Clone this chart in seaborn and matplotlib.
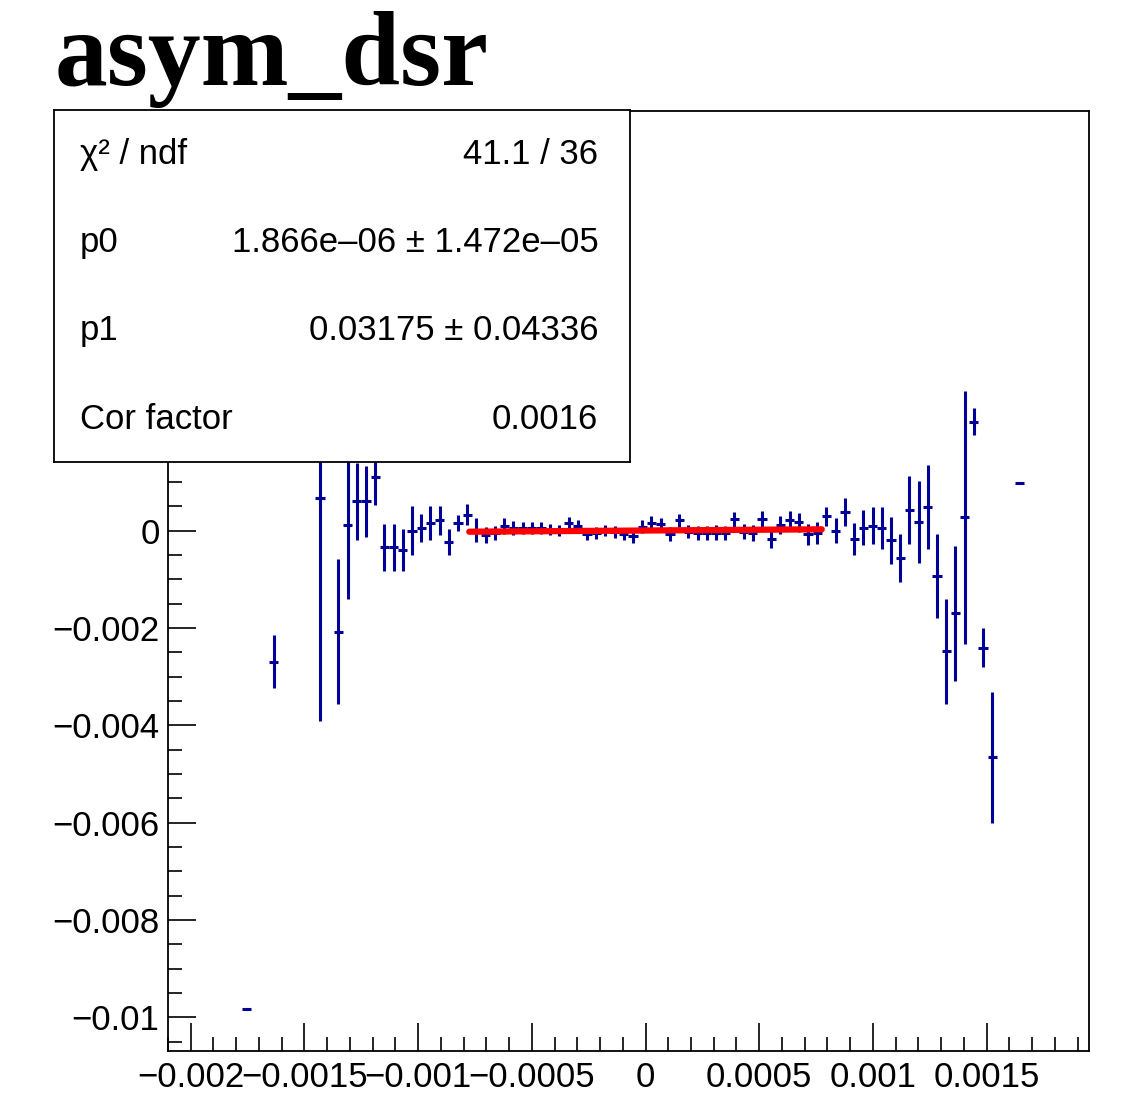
import numpy as np
import pandas as pd
import matplotlib
matplotlib.use('Agg')
import matplotlib.pyplot as plt
from matplotlib.ticker import MultipleLocator
import seaborn as sns

# --- histogram definition (ROOT TH1, 100 bins) ---
nbins = 100
xlo, xhi = -0.0021, 0.00195

# filled bins: index, content, error
bin_idx = [8, 11, 16, 18, 19, 20, 21, 22, 23, 24, 25, 26, 27, 28, 29, 30, 31, 32, 33,
           34, 35, 36, 37, 38, 39, 40, 41, 42, 43, 44, 45, 46, 47, 48, 49, 50,
           51, 52, 53, 54, 55, 56, 57, 58, 59, 60, 61, 62, 63, 64, 65, 66, 67, 68,
           69, 70, 71, 72, 73, 74, 75, 76, 77, 78, 79, 80, 81, 82, 83, 84, 85, 86,
           87, 88, 89, 92]
asym = [-0.00982, -0.00269, 0.00066, -0.00208, 0.00011, 0.00060, 0.00060, 0.00110,
        -0.00034, -0.00034, -0.00039, 0.0, 0.00005, 0.00016, 0.00021, -0.00023,
        0.00016, 0.00033, 0.00001,
        -0.00009, -0.00005, 0.00009, 0.00005, 0.00005, 0.00005, 0.00005, 0.00002,
        0.0, 0.00016, 0.00010, -0.00007, -0.00005, 0.0, -0.00003, -0.00007, -0.00012,
        0.00008, 0.00016, 0.00013, -0.00007, 0.00021, -0.00002, -0.00005, -0.00005,
        -0.00004, -0.00005, 0.00023, -0.00002, -0.00005, 0.00023, -0.00017, 0.00012,
        0.00021, 0.00017,
        -0.00008, -0.00005, 0.00029, 0.0, 0.00038, -0.00017, 0.00006, 0.00010,
        0.00006, -0.00020, -0.00056, 0.00043, 0.00017, 0.00049, -0.00094, -0.00248,
        -0.00170, 0.00027,
        0.00224, -0.00241, -0.00466, 0.00098]
asym_err = [0.00002, 0.00055, 0.00458, 0.00149, 0.00151, 0.00079, 0.00073, 0.00057,
            0.00048, 0.00048, 0.00043, 0.00051, 0.00029, 0.00035, 0.00030, 0.00027,
            0.00016, 0.00022, 0.00024,
            0.00017, 0.00015, 0.00016, 0.00014, 0.00013, 0.00013, 0.00012, 0.00011,
            0.00011, 0.00012, 0.00012, 0.00012, 0.00012, 0.00012, 0.00012, 0.00012,
            0.00013,
            0.00013, 0.00013, 0.00013, 0.00014, 0.00014, 0.00014, 0.00014, 0.00014,
            0.00015, 0.00015, 0.00015, 0.00016, 0.00016, 0.00017, 0.00018, 0.00019,
            0.00019, 0.00020,
            0.00021, 0.00022, 0.00020, 0.00026, 0.00029, 0.00033, 0.00036, 0.00038,
            0.00043, 0.00048, 0.00050, 0.00070, 0.00084, 0.00086, 0.00086, 0.00108,
            0.00139, 0.00260,
            0.00028, 0.00040, 0.00134, 0.00001]

# --- fit (pol1) ---
fit_range = [-0.000775, 0.000775]
p0, p1 = 1.866e-06, 0.03175
stat_labels = ['χ² / ndf', 'p0', 'p1', 'Cor factor']
stat_values = ['41.1 / 36', '1.866e–06 ± 1.472e–05', '0.03175 ± 0.04336', '0.0016']

xtick_vals = [-0.002, -0.0015, -0.001, -0.0005, 0, 0.0005, 0.001, 0.0015]
xtick_labels = ['−0.002', '−0.0015', '−0.001', '−0.0005', '0', '0.0005', '0.001', '0.0015']
ytick_vals = [-0.01, -0.008, -0.006, -0.004, -0.002, 0, 0.002, 0.004, 0.006, 0.008]
# labels above 0 sit under the stats box in the original
ytick_labels = ['−0.01', '−0.008', '−0.006', '−0.004', '−0.002', '0', '', '', '', '']

sns.set_style('ticks')
plt.rcParams['font.family'] = ['Liberation Sans', 'DejaVu Sans']
plt.rcParams['text.color'] = 'black'
plt.rcParams['xtick.color'] = 'black'
plt.rcParams['ytick.color'] = 'black'

edges = np.linspace(xlo, xhi, nbins + 1)
centers = 0.5 * (edges[:-1] + edges[1:])
half = 0.5 * (edges[1] - edges[0])
df = pd.DataFrame({'x': centers[bin_idx], 'y': asym, 'err': asym_err})

fig = plt.figure(figsize=(11.41, 11.19), dpi=100)
ax = fig.add_axes([0.1472, 0.0608, 0.8072, 0.84])

ax.errorbar(df['x'], df['y'], xerr=half, yerr=df['err'], fmt='none',
            ecolor='#000099', elinewidth=2.2, capsize=0, zorder=2)

fx = np.array(fit_range)
fit_df = pd.DataFrame({'x': fx, 'y': p0 + p1 * fx})
sns.lineplot(data=fit_df, x='x', y='y', color='#ff0000', linewidth=4.5, ax=ax, zorder=3)

ax.set_xlim(xlo, xhi)
ax.set_ylim(-0.01069, 0.00862)
ax.set_xlabel('')
ax.set_ylabel('')
ax.xaxis.set_minor_locator(MultipleLocator(0.0001))
ax.yaxis.set_minor_locator(MultipleLocator(0.0005))
ax.set_xticks(xtick_vals)
ax.set_xticklabels(xtick_labels)
ax.set_yticks(ytick_vals)
ax.set_yticklabels(ytick_labels)
ax.tick_params(which='both', direction='in', top=False, right=False, width=1.2,
               labelsize=25, colors='black')
ax.tick_params(which='major', length=20)
ax.tick_params(which='minor', length=10)
ax.tick_params(axis='x', pad=7)
ax.tick_params(axis='y', pad=6)
for sp in ax.spines.values():
    sp.set_linewidth(1.3)
    sp.set_color('black')

# stats box drawn on top
box = fig.add_axes([0.0473, 0.5871, 0.5048, 0.3146])
box.set_xticks([])
box.set_yticks([])
box.set_xlim(0, 1)
box.set_ylim(0, 1)
box.set_facecolor('white')
for sp in box.spines.values():
    sp.set_linewidth(1.3)
    sp.set_color('black')
rows_y = [0.875, 0.625, 0.375, 0.12]
for lab, val, yy in zip(stat_labels, stat_values, rows_y):
    box.text(0.045, yy, lab, fontsize=25, ha='left', va='center')
    box.text(0.945, yy, val, fontsize=25, ha='right', va='center')

fig.text(0.048, 0.924, 'asym_dsr', fontsize=76, fontweight='bold',
         family=['Liberation Serif', 'DejaVu Serif'], va='baseline', ha='left')

fig.savefig('out.png', dpi=100)
